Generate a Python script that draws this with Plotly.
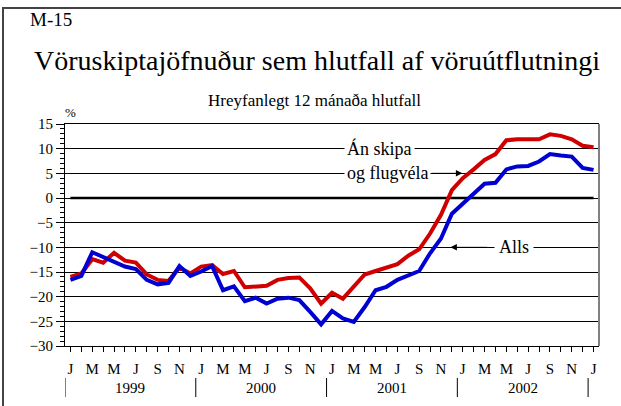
import plotly.graph_objects as go

# Months Jan 1999 .. Jan 2003 (49 points)
month_letters = ["J", "F", "M", "A", "M", "J", "J", "A", "S", "O", "N", "D"]
n_months = 49
month_idx = list(range(n_months))
tick_text = [month_letters[i % 12] if i % 2 == 0 else "" for i in month_idx]
years = ["1999", "2000", "2001", "2002"]

# Án skipa og flugvéla (red)
an_skipa = [-16.0, -15.3, -12.4, -13.1, -11.1, -12.7, -13.1, -15.5, -16.6, -16.8,
            -14.1, -15.3, -13.9, -13.6, -15.4, -14.8, -18.1, -17.9, -17.8, -16.6,
            -16.2, -16.1, -18.3, -21.4, -19.2, -20.4, -18.0, -15.5, -14.8, -14.1,
            -13.4, -11.7, -10.4, -7.2, -3.4, 1.6, 4.0, 5.8, 7.7, 8.9,
            11.7, 11.9, 11.8, 11.9, 12.9, 12.6, 11.9, 10.6, 10.3]
# Alls (blue)
alls = [-16.6, -15.8, -11.0, -11.9, -12.9, -13.9, -14.4, -16.6, -17.5, -17.2,
        -13.8, -15.8, -14.9, -13.8, -18.7, -17.9, -20.9, -20.2, -21.4, -20.4,
        -20.2, -20.7, -23.1, -25.6, -22.9, -24.4, -25.1, -22.1, -18.7, -18.0,
        -16.6, -15.6, -14.8, -11.2, -8.2, -3.2, -1.1, 0.8, 2.9, 3.1,
        5.8, 6.4, 6.5, 7.4, 8.9, 8.6, 8.4, 6.1, 5.7]

FONT = "Liberation Serif, Times New Roman, serif"

fig = go.Figure()
fig.add_trace(go.Scatter(x=month_idx, y=an_skipa, mode="lines",
                         line=dict(color="#d00000", width=4), name="Án skipa og flugvéla"))
fig.add_trace(go.Scatter(x=month_idx, y=alls, mode="lines",
                         line=dict(color="#0000d0", width=4), name="Alls"))

W0, W1 = 65, 599
T0, B0 = 124, 346
def px(xpix):
    return (xpix - W0) / (W1 - W0)
def py(ypix):
    return (B0 - ypix) / (B0 - T0)

shapes = []
# thick zero line
shapes.append(dict(type="line", xref="x", yref="y", x0=0, x1=n_months - 1, y0=0, y1=0,
                   line=dict(color="black", width=2.5), layer="below"))
# right frame
shapes.append(dict(type="line", xref="paper", yref="paper", x0=1, x1=1, y0=0, y1=1,
                   line=dict(color="#808080", width=2)))
# year separators
for k in range(5):
    xv = -0.5 + 12 * k
    shapes.append(dict(type="line", xref="x", yref="paper", x0=xv, x1=xv,
                       y0=py(378), y1=py(397), line=dict(color="black", width=1)))
# outer border (left and top; right/bottom fall outside the picture)
shapes.append(dict(type="rect", xref="paper", yref="paper", x0=px(3), x1=px(640),
                   y0=py(420), y1=py(8), line=dict(color="#444444", width=2),
                   fillcolor="rgba(0,0,0,0)", layer="above"))

annotations = []
for k, yr in enumerate(years):
    annotations.append(dict(x=5.5 + 12 * k, y=py(388), xref="x", yref="paper", text=yr,
                            showarrow=False, xanchor="center", yanchor="middle",
                            font=dict(family=FONT, size=15, color="black")))
annotations += [
    dict(x=px(28), y=py(20), xref="paper", yref="paper", text="M-15", showarrow=False,
         xanchor="left", yanchor="middle", font=dict(family=FONT, size=19, color="black")),
    dict(x=px(317), y=py(60), xref="paper", yref="paper",
         text="Vöruskiptajöfnuður sem hlutfall af vöruútflutningi", showarrow=False,
         xanchor="center", yanchor="middle",
         font=dict(family=FONT, size=28, color="black")),
    dict(x=px(314), y=py(100), xref="paper", yref="paper",
         text="Hreyfanlegt 12 mánaða hlutfall", showarrow=False,
         xanchor="center", yanchor="middle",
         font=dict(family=FONT, size=17, color="black")),
    dict(x=px(70), y=py(112), xref="paper", yref="paper", text="%", showarrow=False,
         xanchor="center", yanchor="middle",
         font=dict(family=FONT, size=13, color="black")),
    dict(x=(379 - 70) / 10.9, y=10, xref="x", yref="y", text="Án skipa", showarrow=False,
         xanchor="center", yanchor="middle",
         bgcolor="white", borderpad=2, font=dict(family=FONT, size=18, color="black")),
    dict(x=(387 - 70) / 10.9, y=5, xref="x", yref="y", text="og flugvéla", showarrow=False,
         xanchor="center", yanchor="middle",
         bgcolor="white", borderpad=2, font=dict(family=FONT, size=18, color="black")),
    dict(x=(514 - 70) / 10.9, y=-10, xref="x", yref="y", text="Alls", showarrow=False,
         xanchor="center", yanchor="middle",
         bgcolor="white", borderpad=4, font=dict(family=FONT, size=18, color="black")),
    # arrows
    dict(x=(462 - 70) / 10.9, y=5, xref="x", yref="y", text="", showarrow=True,
         ax=-32, ay=0, arrowhead=2, arrowsize=1.3, arrowwidth=1, arrowcolor="black"),
    dict(x=(450 - 70) / 10.9, y=-10, xref="x", yref="y", text="", showarrow=True,
         ax=38, ay=0, arrowhead=2, arrowsize=1.3, arrowwidth=1, arrowcolor="black"),
]

fig.update_layout(
    width=621, height=406,
    margin=dict(l=W0, r=621 - W1, t=T0, b=406 - B0, pad=0),
    paper_bgcolor="white", plot_bgcolor="white",
    showlegend=False,
    font=dict(family=FONT, size=15, color="black"),
    shapes=shapes, annotations=annotations,
    xaxis=dict(range=[-0.5, 48.5], tickmode="array", tickvals=month_idx, ticktext=tick_text,
               ticks="outside", ticklen=5, tickcolor="black", tickwidth=1,
               showline=True, linecolor="black", linewidth=1, mirror=True,
               showgrid=False, zeroline=False, ticklabelstandoff=4,
               tickfont=dict(family=FONT, size=15, color="black")),
    yaxis=dict(range=[-30, 15], dtick=5, tick0=0, ticks="outside", ticklen=8,
               tickcolor="black", tickwidth=1,
               minor=dict(dtick=1, ticks="outside", ticklen=4, tickcolor="black", showgrid=False),
               showline=True, linecolor="black", linewidth=1,
               showgrid=True, gridcolor="black", gridwidth=1, zeroline=False,
               tickfont=dict(family=FONT, size=15, color="black")),
)

fig.write_html("out.html", config={"displayModeBar": False},
               post_script="document.body.style.margin='0px';document.body.style.padding='0px';")
